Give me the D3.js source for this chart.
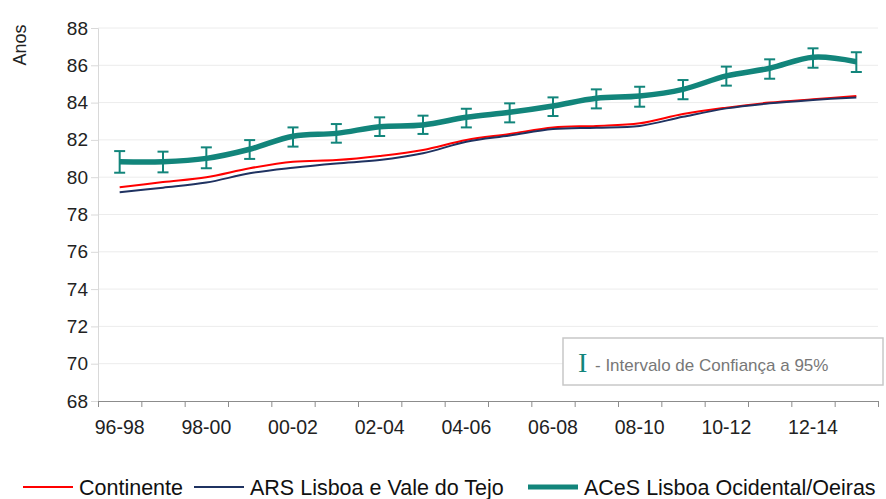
<!DOCTYPE html>
<html>
<head>
<meta charset="utf-8">
<script src="https://cdn.jsdelivr.net/npm/d3@7"></script>
<style>
  body { margin: 0; background: #fff; }
  svg { font-family: "Liberation Sans", Arial, sans-serif; }
</style>
</head>
<body>
<div id="chart"></div>
<script>
// periods (3-year moving windows)
var periods = ["96-98", "97-99", "98-00", "99-01", "00-02", "01-03", "02-04", "03-05", "04-06",
  "05-07", "06-08", "07-09", "08-10", "09-11", "10-12", "11-13", "12-14", "13-15"];

// life expectancy, years
var continente = [79.46, 79.74, 80.0, 80.48, 80.83, 80.92, 81.14, 81.46, 82.0,
  82.32, 82.67, 82.75, 82.89, 83.39, 83.73, 84.0, 84.18, 84.35];
var arsLvt = [79.19, 79.44, 79.71, 80.21, 80.51, 80.74, 80.92, 81.28, 81.9,
  82.23, 82.58, 82.65, 82.75, 83.24, 83.69, 83.96, 84.14, 84.28];
var aces = [80.83, 80.83, 81.01, 81.5, 82.2, 82.35, 82.71, 82.8, 83.21,
  83.48, 83.82, 84.23, 84.35, 84.71, 85.43, 85.84, 86.43, 86.19];
// 95% confidence interval for ACeS
var acesLow = [80.24, 80.26, 80.48, 80.98, 81.64, 81.85, 82.21, 82.32, 82.67,
  82.94, 83.28, 83.69, 83.78, 84.18, 84.91, 85.28, 85.87, 85.64];
var acesHigh = [81.40, 81.37, 81.60, 81.99, 82.67, 82.85, 83.21, 83.30, 83.67,
  83.96, 84.28, 84.71, 84.85, 85.21, 85.93, 86.32, 86.91, 86.70];

var yTicks = [68, 70, 72, 74, 76, 78, 80, 82, 84, 86, 88];

var seriesNames = ["Continente", "ARS Lisboa e Vale do Tejo", "ACeS Lisboa Ocidental/Oeiras"];

var svgWidth = 886, svgHeight = 499;
var margin = { top: 28, right: 8, bottom: 98, left: 98 };
var width = svgWidth - margin.left - margin.right;
var height = svgHeight - margin.top - margin.bottom;

var teal = "#12857b", red = "#ff0000", navy = "#1f3261";

var svg = d3.select("#chart").append("svg")
  .attr("width", svgWidth)
  .attr("height", svgHeight);

var chartGroup = svg.append("g")
  .attr("transform", `translate(${margin.left}, ${margin.top})`);

// scales
var x = d3.scaleBand().domain(periods).range([0, width]);
var xIdx = d3.scaleLinear().domain([0, periods.length]).range([0, width]);
var y = d3.scaleLinear().domain([68, 88]).range([height, 0]);
var cx = function(i) { return x(periods[i]) + x.bandwidth() / 2; };

// gridlines
chartGroup.append("g")
  .selectAll("line")
  .data(yTicks.slice(1))
  .enter()
  .append("line")
  .attr("x1", 0).attr("x2", width)
  .attr("y1", d => y(d)).attr("y2", d => y(d))
  .attr("stroke", "#ececec")
  .attr("stroke-width", 1);

// y axis
var yAxis = chartGroup.append("g")
  .call(d3.axisLeft(y).tickValues(yTicks).tickSize(7).tickPadding(3));
yAxis.select(".domain").attr("stroke", "#d9d9d9");
yAxis.selectAll(".tick line").attr("stroke", "#d9d9d9");
yAxis.selectAll("text").attr("font-size", 19).attr("fill", "#222")
  .style("font-family", "Liberation Sans, Arial, sans-serif");

// x axis: ticks at category boundaries
var xAxisTicks = chartGroup.append("g")
  .attr("transform", `translate(0, ${height})`)
  .call(d3.axisBottom(xIdx).tickValues(d3.range(0, periods.length + 1)).tickSize(6).tickFormat(""));
xAxisTicks.select(".domain").attr("stroke", "#8c8c8c");
xAxisTicks.selectAll(".tick line").attr("stroke", "#8c8c8c");

// x labels: every other period
var xAxisLabels = chartGroup.append("g")
  .attr("transform", `translate(0, ${height})`)
  .call(d3.axisBottom(x).tickSize(0).tickPadding(19)
    .tickFormat((d, i) => i % 2 === 0 ? d : ""));
xAxisLabels.select(".domain").remove();
xAxisLabels.selectAll("text").attr("font-size", 19.5).attr("fill", "#222")
  .style("font-family", "Liberation Sans, Arial, sans-serif");

// y title
svg.append("text")
  .attr("transform", "translate(26, 45) rotate(-90)")
  .attr("text-anchor", "middle")
  .attr("font-size", 18)
  .attr("fill", "#222")
  .text("Anos");

// lines
var line = d3.line()
  .x((d, i) => cx(i))
  .y(d => y(d))
  .curve(d3.curveCatmullRom.alpha(0));

chartGroup.append("path")
  .datum(continente)
  .attr("d", line)
  .attr("fill", "none")
  .attr("stroke", red)
  .attr("stroke-width", 2);

chartGroup.append("path")
  .datum(arsLvt)
  .attr("d", line)
  .attr("fill", "none")
  .attr("stroke", navy)
  .attr("stroke-width", 2);

chartGroup.append("path")
  .datum(aces)
  .attr("d", line)
  .attr("fill", "none")
  .attr("stroke", teal)
  .attr("stroke-width", 5.5);

// error bars
var errGroup = chartGroup.append("g")
  .attr("stroke", teal)
  .attr("stroke-width", 2);

var capW = 5.5;
aces.forEach(function(v, i) {
  errGroup.append("line")
    .attr("x1", cx(i)).attr("x2", cx(i))
    .attr("y1", y(acesLow[i])).attr("y2", y(acesHigh[i]));
  errGroup.append("line")
    .attr("x1", cx(i) - capW).attr("x2", cx(i) + capW)
    .attr("y1", y(acesLow[i])).attr("y2", y(acesLow[i]));
  errGroup.append("line")
    .attr("x1", cx(i) - capW).attr("x2", cx(i) + capW)
    .attr("y1", y(acesHigh[i])).attr("y2", y(acesHigh[i]));
});

// confidence interval note
var note = svg.append("g");
note.append("rect")
  .attr("x", 563).attr("y", 338)
  .attr("width", 320).attr("height", 47)
  .attr("fill", "#fff")
  .attr("stroke", "#c8c8c8")
  .attr("stroke-width", 1.5);
note.append("text")
  .attr("x", 578).attr("y", 372)
  .attr("font-family", "Liberation Serif, Times New Roman, serif")
  .attr("font-size", 28)
  .attr("fill", teal)
  .text("I");
note.append("text")
  .attr("x", 595).attr("y", 371)
  .attr("font-size", 17)
  .attr("fill", "#777")
  .text("- Intervalo de Confiança a 95%");

// legend
var legendItems = [
  { name: seriesNames[0], color: red, w: 2, x: 23 },
  { name: seriesNames[1], color: navy, w: 2, x: 194 },
  { name: seriesNames[2], color: teal, w: 5, x: 528 }
];
var legend = svg.append("g").attr("transform", "translate(0, 487)");
legendItems.forEach(function(d) {
  legend.append("line")
    .attr("x1", d.x).attr("x2", d.x + 50)
    .attr("y1", 0).attr("y2", 0)
    .attr("stroke", d.color)
    .attr("stroke-width", d.w);
  legend.append("text")
    .attr("x", d.x + 56)
    .attr("y", 0)
    .attr("dy", "0.36em")
    .attr("font-size", 21.5)
    .attr("fill", "#111")
    .text(d.name);
});
</script>
</body>
</html>
